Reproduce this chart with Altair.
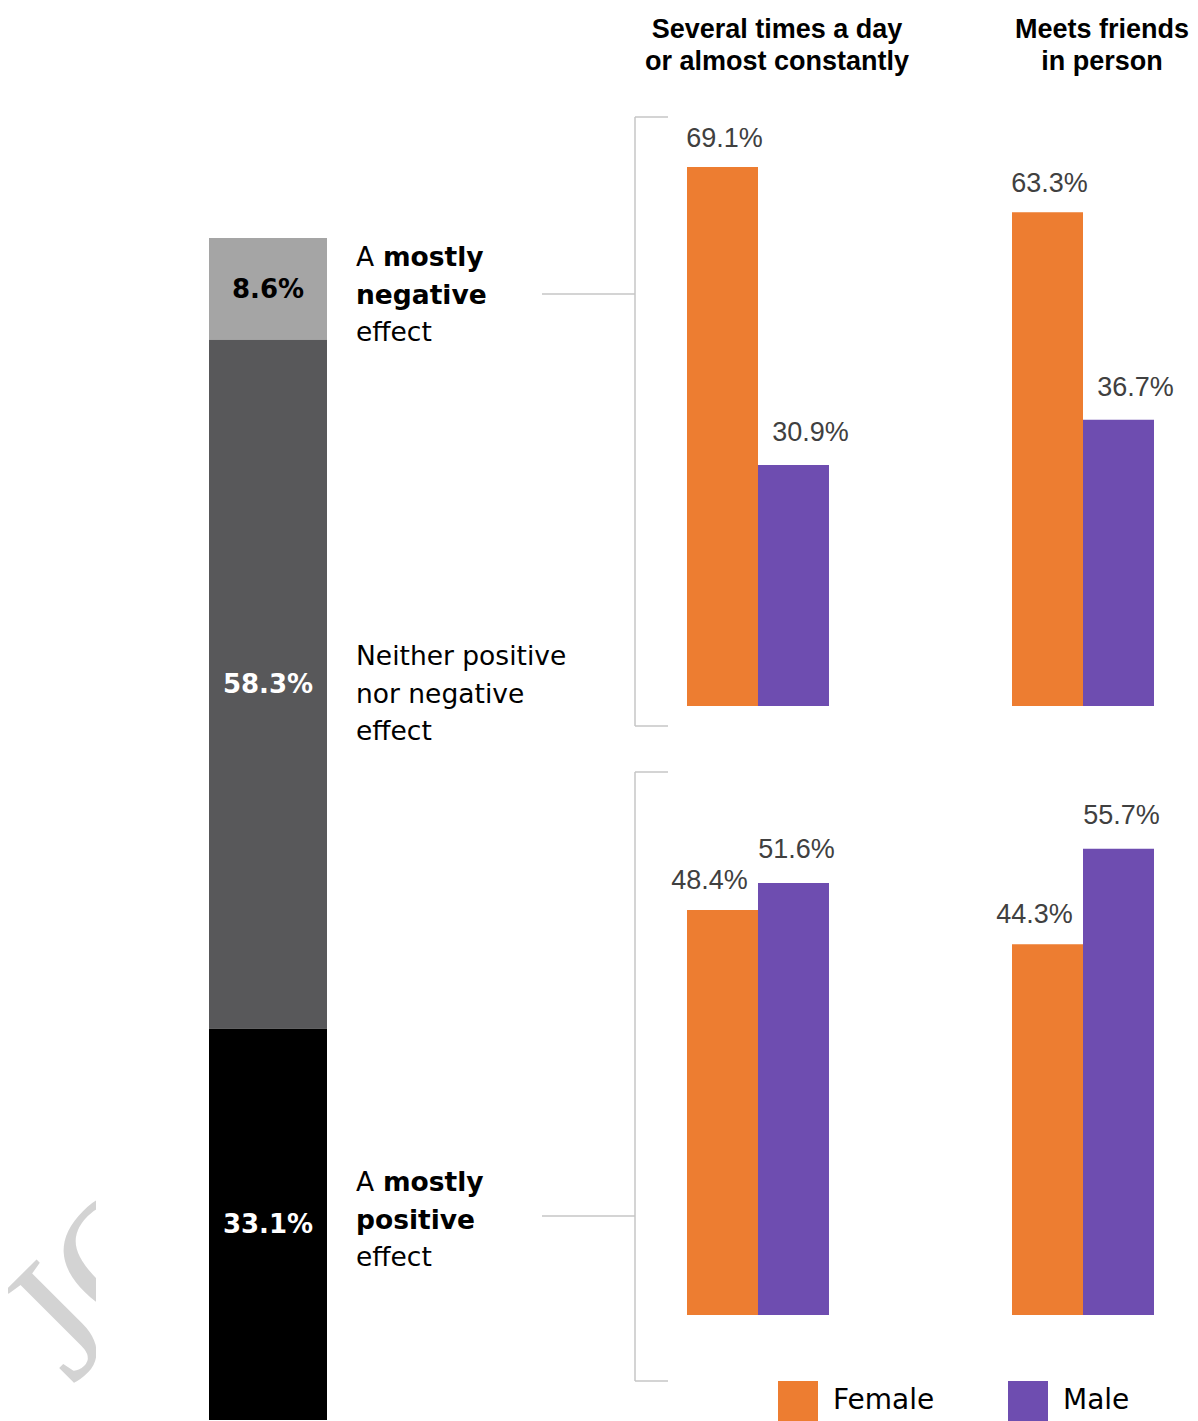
import altair as alt
import pandas as pd

# ---------------- data ----------------
effects = ["A mostly negative effect", "Neither positive nor negative effect", "A mostly positive effect"]
effect_values = [8.6, 58.3, 33.1]
effect_colors = ["#a5a5a5", "#58585a", "#000000"]

columns = ["Several times a day or almost constantly", "Meets friends in person"]
column_headers = [["Several times a day", "or almost constantly"], ["Meets friends", "in person"]]
genders = ["Female", "Male"]
gender_colors = ["#ed7d31", "#6e4db0"]

# share of each gender among those reporting a mostly negative effect
neg_female = [69.1, 63.3]
neg_male = [30.9, 36.7]
# share of each gender among those reporting a mostly positive effect
pos_female = [48.4, 44.3]
pos_male = [51.6, 55.7]

# ---------------- tables ----------------
left_df = pd.DataFrame({"effect": effects, "value": effect_values,
                        "idx": list(range(len(effects))), "bar": ["All"] * len(effects)})

def row_df(female, male):
    recs = []
    for c, f, m in zip(columns, female, male):
        recs.append({"column": c, "gender": "Female", "value": f})
        recs.append({"column": c, "gender": "Male", "value": m})
    return pd.DataFrame(recs)

neg_df = row_df(neg_female, neg_male)
pos_df = row_df(pos_female, pos_male)
header_df = pd.DataFrame({"column": columns, "lines": column_headers})

LABEL_FONT = "DejaVu Sans"
NUM_FONT = "Liberation Sans"

# ---------------- left stacked bar ----------------
X1 = alt.X("bar:N", scale=alt.Scale(domain=["All"], range=[201, 319], paddingInner=0, paddingOuter=0), axis=None)
Y1s = alt.Scale(domain=[0, 100], range=[1412, 230], nice=False, zero=True)

bars1 = alt.Chart(left_df).mark_bar().encode(
    x=X1,
    y=alt.Y("value:Q", stack="zero", scale=Y1s, axis=None),
    fill=alt.Fill("effect:N", scale=alt.Scale(domain=effects, range=effect_colors), legend=None),
    order=alt.Order("idx:Q", sort="descending"),
)

mid_base = alt.Chart(left_df).transform_window(
    cum="sum(value)", sort=[alt.SortField("idx", order="descending")]
).transform_calculate(
    mid="datum.cum - datum.value / 2",
    label="format(datum.value, '.1f') + '%'",
)

vals1 = mid_base.mark_text(font=LABEL_FONT, fontWeight="bold", fontSize=26, baseline="middle", dy=1).encode(
    x=X1,
    y=alt.Y("mid:Q", scale=Y1s, axis=None),
    text="label:N",
    color=alt.condition(alt.datum.idx == 0, alt.value("#000000"), alt.value("#ffffff")),
)

def piece(idx, text, dx, dy, bold):
    return mid_base.transform_filter(alt.datum.idx == idx).mark_text(
        text=text, align="left", baseline="middle", dx=dx, dy=dy,
        font=LABEL_FONT, fontSize=26.5, fontWeight="bold" if bold else "normal", color="#000000",
    ).encode(x=X1, y=alt.Y("mid:Q", scale=Y1s, axis=None))

LDX = 88
MDX = 115
labels = [
    piece(0, "A", LDX, -31, False), piece(0, "mostly", MDX, -31, True),
    piece(0, "negative", LDX, 7, True), piece(0, "effect", LDX, 44, False),
    piece(1, "Neither positive", LDX, -27, False), piece(1, "nor negative", LDX, 11, False),
    piece(1, "effect", LDX, 48, False),
    piece(2, "A", LDX, -41, False), piece(2, "mostly", MDX, -41, True),
    piece(2, "positive", LDX, -3, True), piece(2, "effect", LDX, 34, False),
]

group1 = alt.layer(bars1, vals1, *labels)

# ---------------- right grouped bars ----------------
Xs = alt.Scale(domain=columns, range=[679, 1146], paddingInner=0.5631, paddingOuter=0)
XOs = alt.Scale(domain=genders, paddingInner=0, paddingOuter=0)
legend = alt.Legend(orient="none", legendX=770, legendY=1373, direction="horizontal", title=None,
                    symbolType="square", symbolSize=1600, symbolStrokeWidth=0,
                    labelFont=LABEL_FONT, labelFontSize=28, labelColor="#000000",
                    labelOffset=15, columnPadding=73, padding=0, labelLimit=400)
C = alt.Color("gender:N", scale=alt.Scale(domain=genders, range=gender_colors), legend=legend)

def row_group(df, y_scale, dx_f, dx_m, dy, with_header=False):
    X = alt.X("column:N", scale=Xs, axis=None)
    XO = alt.XOffset("gender:N", scale=XOs)
    Y = alt.Y("value:Q", scale=y_scale, axis=None)
    base = alt.Chart(df)
    bars = base.mark_bar().encode(x=X, xOffset=XO, y=Y, color=C)
    lab = base.transform_calculate(label="format(datum.value, '.1f') + '%'")
    tf = lab.transform_filter(alt.datum.gender == "Female").mark_text(
        font=NUM_FONT, fontSize=27, color="#404040", baseline="middle", dy=dy, dx=dx_f
    ).encode(x=X, xOffset=XO, y=Y, text="label:N")
    tm = lab.transform_filter(alt.datum.gender == "Male").mark_text(
        font=NUM_FONT, fontSize=27, color="#404040", baseline="middle", dy=dy - 4, dx=dx_m
    ).encode(x=X, xOffset=XO, y=Y, text="label:N")
    layers = [bars, tf, tm]
    if with_header:
        hdr = alt.Chart(header_df).mark_text(
            font=NUM_FONT, fontWeight="bold", fontSize=27, lineHeight=32, baseline="middle",
            dx=19, color="#000000"
        ).encode(x=X, y=alt.value(22), text="lines")
        layers.append(hdr)
    return alt.layer(*layers)

group2 = row_group(neg_df, alt.Scale(domain=[0, 50], range=[698, 308], nice=False), 2, 17, -28, with_header=True)
group3 = row_group(pos_df, alt.Scale(domain=[0, 50], range=[1307, 888.5], nice=False), -13, 3, -29)

# ---------------- brackets / connectors ----------------
one = alt.Chart(pd.DataFrame({"k": [0]}))
BR = "#c6c6c6"
def seg(x1, x2, y1, y2):
    return one.mark_rule(color=BR, strokeWidth=1.5).encode(
        x=alt.value(x1), x2=alt.value(x2), y=alt.value(y1), y2=alt.value(y2))

rules = [
    seg(627, 627, 109, 718), seg(627, 660, 109, 109), seg(627, 660, 718, 718), seg(534, 627, 286, 286),
    seg(627, 627, 764, 1373), seg(627, 660, 764, 764), seg(627, 660, 1373, 1373), seg(534, 627, 1208, 1208),
]

# ---------------- faint watermark at bottom-left ----------------
wm = one.mark_text(text="JO", font="Liberation Serif", fontSize=175, angle=315, align="left",
                   baseline="alphabetic", color="#d3d3d3").encode(x=alt.value(64), y=alt.value(1378))
wm_mask = one.mark_rect(color="#ffffff").encode(
    x=alt.value(88), x2=alt.value(196), y=alt.value(1050), y2=alt.value(1413))

chart = alt.layer(wm, wm_mask, group1, group2, group3, *rules).resolve_scale(
    x="independent", y="independent", fill="independent", color="shared"
).properties(
    width=1182, height=1413, padding=0, background="#ffffff",
    autosize=alt.AutoSizeParams(type="none"),
).configure_view(stroke=None)

chart.save("out.html", embed_options={"renderer": "svg", "actions": False})
